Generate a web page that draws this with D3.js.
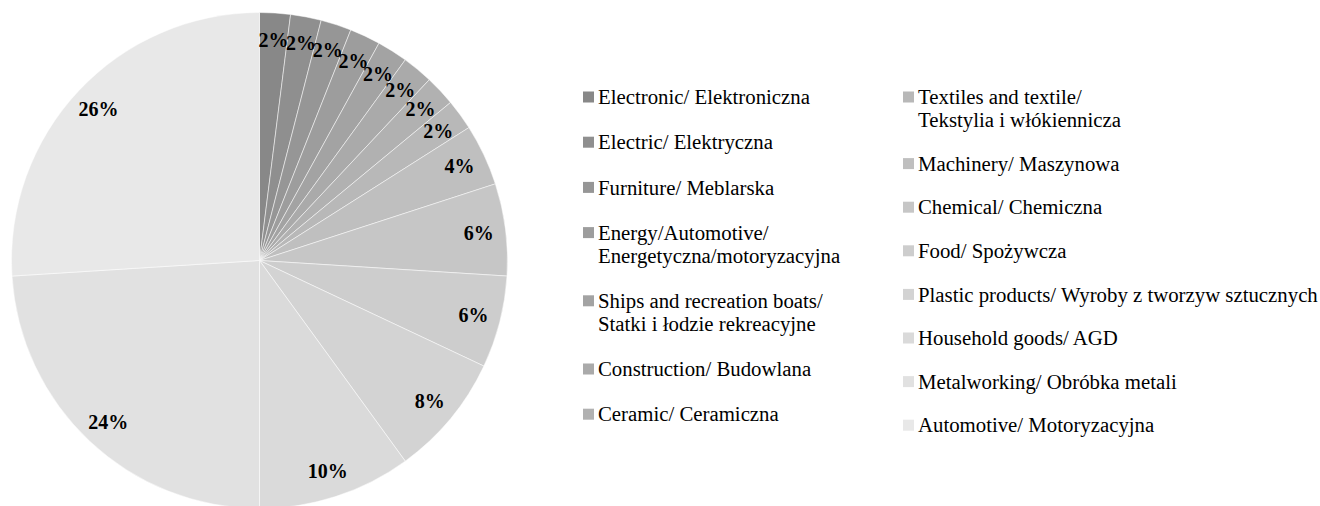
<!DOCTYPE html>
<html>
<head>
<meta charset="utf-8">
<script src="https://cdn.jsdelivr.net/npm/d3@7"></script>
<style>
  body { margin: 0; background: #fff; }
  svg { display: block; font-family: "Liberation Serif", "DejaVu Serif", serif; }
</style>
</head>
<body>
<div id="chart"></div>
<script>
// Industry categories (clockwise from 12 o'clock)
var categories = [
    "Electronic/ Elektroniczna",
    "Electric/ Elektryczna",
    "Furniture/ Meblarska",
    "Energy/Automotive/|Energetyczna/motoryzacyjna",
    "Ships and recreation boats/|Statki i łodzie rekreacyjne",
    "Construction/ Budowlana",
    "Ceramic/ Ceramiczna",
    "Textiles and textile/|Tekstylia i włókiennicza",
    "Machinery/ Maszynowa",
    "Chemical/ Chemiczna",
    "Food/ Spożywcza",
    "Plastic products/ Wyroby z tworzyw sztucznych",
    "Household goods/ AGD",
    "Metalworking/ Obróbka metali",
    "Automotive/ Motoryzacyjna"
];

// Share in percent
var shares = [2, 2, 2, 2, 2, 2, 2, 2, 4, 6, 6, 8, 10, 24, 26];

// Which legend column each entry sits in
var legendColumn = [0, 0, 0, 0, 0, 0, 0, 1, 1, 1, 1, 1, 1, 1, 1];

var fullWidth = 1320;
var fullHeight = 506;

var cx = 259.5, cy = 260.5, radius = 248;

// grey shades, darkest first
var colorScale = d3.scaleLinear()
    .domain([0, categories.length - 1])
    .range(["#888888", "#e8e8e8"]);

var svg = d3.select("#chart")
    .append("svg")
    .attr("width", fullWidth)
    .attr("height", fullHeight);

var pie = d3.pie().sort(null).value(function(d) { return d; });
var arcs = pie(shares);

var arc = d3.arc().innerRadius(0).outerRadius(radius);
var labelArc = d3.arc().innerRadius(221).outerRadius(221);

var g = svg.append("g")
    .attr("transform", "translate(" + cx + "," + cy + ")");

g.selectAll("path.slice")
    .data(arcs)
    .enter().append("path")
    .attr("class", "slice")
    .attr("d", arc)
    .attr("fill", function(d, i) { return colorScale(i); })
    .attr("stroke", "#ffffff")
    .attr("stroke-width", 0.5);

g.selectAll("text.pct")
    .data(arcs)
    .enter().append("text")
    .attr("class", "pct")
    .attr("transform", function(d) { return "translate(" + labelArc.centroid(d) + ")"; })
    .attr("text-anchor", "middle")
    .attr("dy", "0.35em")
    .style("font-size", "20px")
    .style("font-weight", "bold")
    .style("fill", "#000")
    .text(function(d) { return d.data + "%"; });

// LEGEND -------------------------------------------
var colSettings = [
    { x: 583, y: 97, pitch: 45.2 },
    { x: 903, y: 97, pitch: 43.6 }
];
var lineHeight = 23;
var boxSize = 11;

var colOffset = [0, 0];
categories.forEach(function(name, i) {
    var c = legendColumn[i];
    var set = colSettings[c];
    var yPos = set.y + colOffset[c];
    var lines = name.split("|");

    svg.append("rect")
        .attr("x", set.x)
        .attr("y", yPos - boxSize / 2)
        .attr("width", boxSize)
        .attr("height", boxSize)
        .attr("fill", colorScale(i));

    var text = svg.append("text")
        .attr("x", set.x + 15)
        .attr("y", yPos)
        .style("font-size", "20.8px")
        .style("fill", "#000");
    lines.forEach(function(line, j) {
        text.append("tspan")
            .attr("x", set.x + 15)
            .attr("dy", j === 0 ? "0.35em" : lineHeight)
            .text(line);
    });

    colOffset[c] += set.pitch + (lines.length - 1) * lineHeight;
});
</script>
</body>
</html>
